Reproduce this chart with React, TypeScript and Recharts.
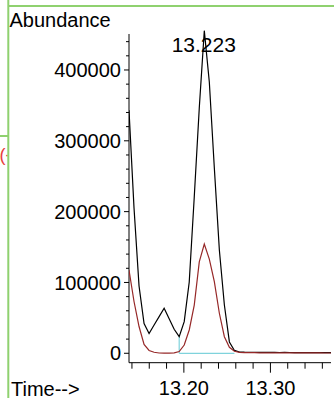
import { LineChart, Line, XAxis, YAxis, ReferenceLine } from 'recharts';

// scan times (min) and abundances for the two traces
const times = [
  13.1366, 13.1424, 13.1482, 13.154, 13.1598, 13.1656, 13.1714, 13.1772, 13.183, 13.1888,
  13.1946, 13.2004, 13.2062, 13.212, 13.2178, 13.2236, 13.2294, 13.2352, 13.241, 13.2468,
  13.2526, 13.2584, 13.2642, 13.27, 13.2758, 13.2816, 13.2874, 13.2932, 13.299, 13.3048,
  13.3106, 13.3164, 13.3222, 13.328, 13.3338, 13.3396, 13.3454, 13.3512, 13.357, 13.3628,
  13.3686, 13.3744,
];

const ticAbundance = [
  343000, 205000, 95000, 42000, 28000, 40000, 51700, 63500, 48800, 33900,
  23400, 44600, 100700, 220700, 346300, 455500, 383000, 261600, 145800, 68200,
  16000, 4000, 1800, 1500, 1400, 1300, 1300, 1200, 1300, 1200,
  1100, 1200, 1100, 1000, 1100, 1000, 1000, 900, 1000, 900,
  900, 800,
];

const ionAbundance = [
  117600, 73100, 37800, 12400, 4000, 1400, 400, 200, 200, 700,
  2500, 11700, 32900, 68000, 129000, 154300, 133000, 101100, 56500, 23400,
  8500, 2800, 1200, 900, 800, 800, 700, 700, 700, 600,
  600, 600, 600, 500, 500, 500, 500, 500, 500, 400,
  400, 400,
];

const xTicks = [13.14, 13.16, 13.18, 13.2, 13.22, 13.24, 13.26, 13.28, 13.3, 13.32, 13.34, 13.36];
const yTicks = [
  0, 20000, 40000, 60000, 80000, 100000, 120000, 140000, 160000, 180000, 200000, 220000,
  240000, 260000, 280000, 300000, 320000, 340000, 360000, 380000, 400000, 420000, 440000,
];

const peakTime = 13.223;
// integration baseline runs between these scans
const baseStart = 10;
const baseEnd = 21;

const X_DOMAIN: [number, number] = [13.1366, 13.37];
const Y_DOMAIN: [number, number] = [-13300, 458000];
const Y_AXIS_TOP = 450800;

const FONT = '"Liberation Sans", Arial, sans-serif';
const PLOT_LEFT = 129;
const PLOT_BOTTOM = 362.7;

const data = times.map((t, i) => ({ t, tic: ticAbundance[i], ion: ionAbundance[i] }));

function renderYTick(props: any) {
  const { y, payload } = props;
  const major = payload.value % 100000 === 0;
  return (
    <g>
      <line x1={PLOT_LEFT - (major ? 5 : 3)} x2={PLOT_LEFT} y1={y} y2={y} stroke="#000" strokeWidth={1} />
      {major && (
        <text x={PLOT_LEFT - 8} y={y} dy="0.36em" textAnchor="end" fontSize={20} fontFamily={FONT} fill="#000">
          {payload.value}
        </text>
      )}
    </g>
  );
}

function renderXTick(props: any) {
  const { x, payload } = props;
  const v = payload.value;
  const major = Math.abs(v * 10 - Math.round(v * 10)) < 1e-6;
  return (
    <g>
      <line x1={x} x2={x} y1={PLOT_BOTTOM} y2={PLOT_BOTTOM + (major ? 10 : 6)} stroke="#000" strokeWidth={1} />
      {major && (
        <text x={x} y={395} textAnchor="middle" fontSize={20} fontFamily={FONT} fill="#000">
          {v.toFixed(2)}
        </text>
      )}
    </g>
  );
}

export default function App() {
  return (
    <div style={{ position: 'fixed', left: 0, top: 0, width: 334, height: 398, background: '#fff', overflow: 'hidden' }}>
      <LineChart
        width={334}
        height={398}
        data={data}
        margin={{ top: 28.9, right: 3, bottom: 5.3, left: 49 }}
      >
        <XAxis
          type="number"
          dataKey="t"
          domain={X_DOMAIN}
          allowDataOverflow
          ticks={xTicks}
          interval={0}
          tick={renderXTick}
          tickLine={false}
          axisLine={{ stroke: '#000' }}
          height={30}
        />
        <YAxis
          type="number"
          domain={Y_DOMAIN}
          ticks={yTicks}
          interval={0}
          tick={renderYTick}
          tickLine={false}
          axisLine={false}
          width={80}
        />
        <ReferenceLine
          segment={[{ x: X_DOMAIN[0], y: Y_DOMAIN[0] }, { x: X_DOMAIN[0], y: Y_AXIS_TOP }]}
          stroke="#000"
        />
        <ReferenceLine
          segment={[{ x: times[baseStart], y: 0 }, { x: times[baseStart], y: ticAbundance[baseStart] }]}
          stroke="#7fd3dc"
          strokeWidth={1.2}
        />
        <ReferenceLine
          segment={[{ x: times[baseStart], y: 0 }, { x: times[baseEnd], y: 0 }]}
          stroke="#7fd3dc"
          strokeWidth={1.2}
        />
        <ReferenceLine
          x={peakTime}
          stroke="none"
          label={{ value: '13.223', position: 'insideTop', offset: 8, fontSize: 21, fontFamily: FONT, fill: '#000' }}
        />
        <Line type="linear" dataKey="tic" stroke="#000" strokeWidth={1.2} dot={false} isAnimationActive={false} />
        <Line type="linear" dataKey="ion" stroke="#962828" strokeWidth={1.2} dot={false} isAnimationActive={false} />
      </LineChart>
      <svg width={334} height={398} style={{ position: 'absolute', left: 0, top: 0, pointerEvents: 'none' }}>
        <defs>
          <clipPath id="edge">
            <rect x={0} y={0} width={7.5} height={398} />
          </clipPath>
        </defs>
        <text x={-0.5} y={161} fontSize={18} fontFamily={FONT} fill="#e8403c" clipPath="url(#edge)">
          (-
        </text>
        <line x1={8.3} x2={8.3} y1={0} y2={398} stroke="#8fd16f" strokeWidth={2} />
        <line x1={8.3} x2={334} y1={6} y2={6} stroke="#8fd16f" strokeWidth={2} />
        <line x1={0} x2={8.3} y1={136} y2={136} stroke="#8fd16f" strokeWidth={2} />
        <text x={9.5} y={26.5} fontSize={20} fontFamily={FONT} fill="#000">
          Abundance
        </text>
        <text x={11} y={395.5} fontSize={20} fontFamily={FONT} fill="#000">
          Time--&gt;
        </text>
      </svg>
    </div>
  );
}
